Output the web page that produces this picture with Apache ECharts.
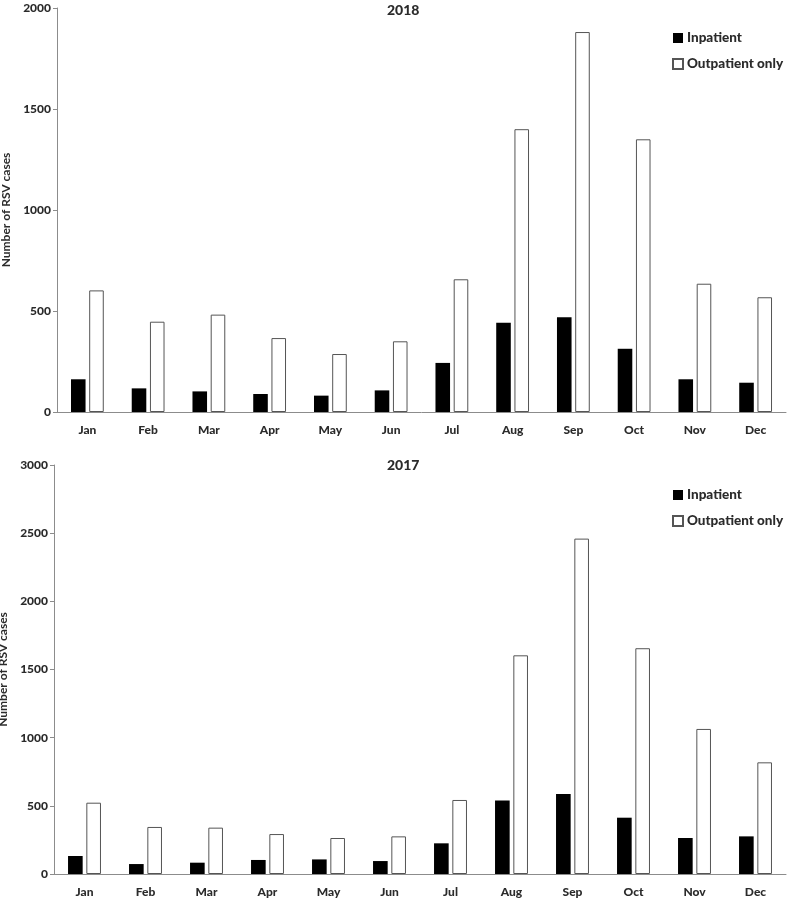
<!DOCTYPE html>
<html>
<head>
<meta charset="utf-8">
<script src="https://cdn.jsdelivr.net/npm/echarts@6/dist/echarts.min.js"></script>
<style>
html,body{margin:0;padding:0;background:#fff;}
#c{width:788px;height:898px;}
</style>
</head>
<body>
<div id="c"></div>
<script>
const months = ['Jan','Feb','Mar','Apr','May','Jun','Jul','Aug','Sep','Oct','Nov','Dec'];
const inpatient2018 = [162, 117, 102, 89, 81, 107, 243, 442, 469, 313, 162, 145];
const outpatient2018 = [602, 447, 482, 366, 287, 350, 657, 1400, 1881, 1350, 635, 568];
const inpatient2017 = [132, 73, 83, 103, 107, 95, 225, 540, 587, 413, 264, 276];
const outpatient2017 = [523, 345, 340, 293, 264, 276, 543, 1604, 2460, 1656, 1064, 819];
const yMax2018 = 2000, yMax2017 = 3000, yStep = 500;
const titles = ['2018', '2017'];
const seriesNames = ['Inpatient', 'Outpatient only'];
const yName = 'Number of RSV cases';

const FONT = 'Lato, "Open Sans", sans-serif';
const W = 900;
const axisCol = '#8c8c8c';
const txtCol = '#2b2b2b';

function yAxis(idx, max, gap) {
  return {
    gridIndex: idx, type: 'value', min: 0, max: max, interval: yStep,
    name: yName, nameLocation: 'middle', nameGap: gap, nameRotate: 90,
    nameTextStyle: {fontFamily: FONT, fontSize: 12, fontWeight: 'bold', color: txtCol},
    axisLine: {show: true, lineStyle: {color: axisCol, width: 1}},
    axisTick: {show: true, length: 4, lineStyle: {color: axisCol}},
    axisLabel: {fontFamily: FONT, fontSize: 12, fontWeight: W, color: txtCol, margin: 6,
      formatter: v => String(v)},
    splitLine: {show: false}
  };
}
function xAxis(idx) {
  return {
    gridIndex: idx, type: 'category', data: months,
    axisLine: {lineStyle: {color: axisCol, width: 1}},
    axisTick: {show: false},
    axisLabel: {fontFamily: FONT, fontSize: 12, fontWeight: W, color: txtCol, margin: 12}
  };
}
function barSeries(name, data, idx, inp) {
  return {
    name: name, type: 'bar', xAxisIndex: idx, yAxisIndex: idx, data: data,
    barGap: '25%', barCategoryGap: '46%',
    itemStyle: inp ? {color: '#000'} : {color: '#fff', borderColor: '#555', borderWidth: 1},
    emphasis: {disabled: true}
  };
}
function legend(idx, top) {
  return {
    top: top, left: 667, orient: 'vertical', itemWidth: 10, itemHeight: 10, itemGap: 12,
    icon: 'rect',
    textStyle: {fontFamily: FONT, fontSize: 13.5, fontWeight: W, color: txtCol, padding: [0,0,0,-1]},
    data: seriesNames.map(n => ({name: n}))
  };
}

const chart = echarts.init(document.getElementById('c'), null, {renderer: 'canvas'});
chart.setOption({
  animation: false,
  backgroundColor: '#fff',
  title: [
    {text: titles[0], left: 382, top: -2, textStyle: {fontFamily: FONT, fontSize: 14, fontWeight: W, color: txtCol}},
    {text: titles[1], left: 382, top: 453, textStyle: {fontFamily: FONT, fontSize: 14, fontWeight: W, color: txtCol}}
  ],
  legend: [legend(0, 26), legend(1, 483)],
  grid: [
    {left: 57, top: 8, width: 729, height: 404, outerBoundsMode: 'none', containLabel: false},
    {left: 54, top: 465, width: 732, height: 409, outerBoundsMode: 'none', containLabel: false}
  ],
  xAxis: [xAxis(0), xAxis(1)],
  yAxis: [yAxis(0, yMax2018, 43), yAxis(1, yMax2017, 39)],
  series: [
    barSeries(seriesNames[0], inpatient2018, 0, true),
    barSeries(seriesNames[1], outpatient2018, 0, false),
    barSeries(seriesNames[0], inpatient2017, 1, true),
    barSeries(seriesNames[1], outpatient2017, 1, false)
  ]
});
</script>
</body>
</html>
